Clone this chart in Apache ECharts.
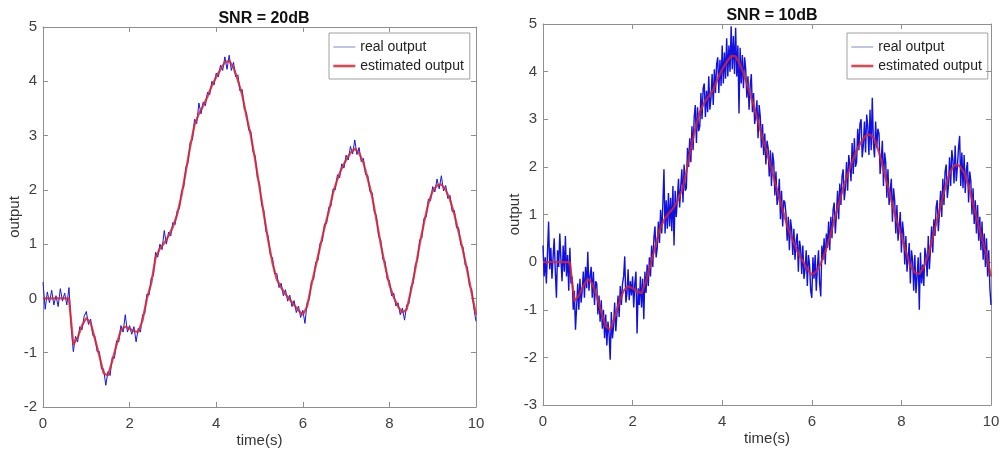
<!DOCTYPE html>
<html>
<head>
<meta charset="utf-8">
<script src="https://cdn.jsdelivr.net/npm/echarts@6/dist/echarts.min.js"></script>
<style>
html, body { margin: 0; padding: 0; background: #fff; }
#main { width: 1002px; height: 451px; }
</style>
</head>
<body>
<div id="main"></div>
<script>
// time steps of the sampled curves (s)
var stepEst = 0.1;
var stepReal20 = 0.05;
var stepReal10 = 0.025;

// SNR = 20dB, estimated output (every 0.1 s)
var est20 = [0,0,0,0,0,0,0,-0.85,-0.72,-0.5,
  -0.36,-0.45,-0.75,-1.05,-1.38,-1.42,-1.15,-0.85,-0.58,-0.52,
  -0.56,-0.6,-0.62,-0.4,0.0,0.28,0.75,0.92,1.02,1.15,
  1.32,1.55,1.9,2.35,2.8,3.2,3.4,3.55,3.72,3.92,
  4.08,4.22,4.35,4.38,4.25,4.02,3.75,3.35,3.0,2.55,
  2.05,1.55,1.07,0.65,0.35,0.2,0.08,-0.02,-0.12,-0.22,
  -0.3,-0.15,0.25,0.6,0.95,1.3,1.6,1.95,2.2,2.4,
  2.55,2.68,2.76,2.68,2.5,2.2,1.88,1.45,1.0,0.6,
  0.25,0.02,-0.15,-0.26,-0.2,0.15,0.55,1.0,1.4,1.75,
  1.98,2.08,2.1,2.0,1.82,1.55,1.22,0.88,0.5,0.1,-0.3];

// SNR = 20dB, real output (every 0.05 s)
var real20 = [0.3,-0.2,0.12,-0.08,0.15,-0.12,0.05,-0.15,0.18,-0.05,
  0.1,-0.12,0.2,-0.5,-0.98,-0.7,-0.8,-0.52,-0.58,-0.33,
  -0.24,-0.48,-0.38,-0.68,-0.7,-0.98,-0.98,-1.3,-1.3,-1.6,
  -1.35,-1.42,-1.08,-1.1,-0.78,-0.8,-0.5,-0.62,-0.3,-0.62,
  -0.5,-0.66,-0.52,-0.8,-0.55,-0.62,-0.3,-0.28,0.08,0.06,
  0.38,0.42,0.85,0.76,1.0,0.9,1.25,1.0,1.22,1.15,
  1.4,1.36,1.62,1.65,1.98,2.05,2.42,2.5,2.88,2.92,
  3.3,3.22,3.6,3.4,3.62,3.55,3.8,3.75,4.0,3.93,
  4.15,4.08,4.3,4.2,4.45,4.22,4.48,4.2,4.35,4.08,
  4.12,3.82,3.85,3.48,3.42,3.1,3.08,2.7,2.63,2.22,
  2.12,1.72,1.62,1.23,1.15,0.8,0.75,0.45,0.46,0.2,
  0.28,0.05,0.16,-0.05,0.06,-0.15,-0.04,-0.26,-0.14,-0.35,
  -0.22,-0.46,-0.08,-0.02,0.32,0.35,0.67,0.7,1.02,1.05,
  1.37,1.38,1.68,1.7,2.02,2.0,2.28,2.22,2.48,2.4,
  2.64,2.55,2.8,2.66,2.92,2.65,2.78,2.52,2.58,2.28,
  2.27,1.97,1.95,1.6,1.52,1.15,1.07,0.72,0.68,0.35,
  0.33,0.05,0.1,-0.14,-0.08,-0.3,-0.18,-0.4,-0.12,-0.1,
  0.22,0.28,0.63,0.7,1.08,1.12,1.48,1.5,1.83,1.8,
  2.06,1.96,2.2,2.02,2.26,1.98,2.08,1.84,1.9,1.6,
  1.62,1.3,1.3,0.98,0.95,0.62,0.58,0.22,0.18,-0.18,-0.42];

// SNR = 10dB, estimated output (every 0.1 s)
var est10 = [0,0,0,0,0,0,0,-0.82,-0.7,-0.5,
  -0.35,-0.45,-0.72,-1.05,-1.35,-1.42,-1.15,-0.85,-0.6,-0.5,
  -0.55,-0.62,-0.65,-0.4,-0.05,0.3,0.68,0.88,1.02,1.12,
  1.28,1.5,1.9,2.4,2.8,3.15,3.35,3.48,3.62,3.85,
  4.05,4.2,4.33,4.32,4.15,3.9,3.6,3.3,2.95,2.6,
  2.3,1.95,1.6,1.27,0.93,0.62,0.4,0.18,0.02,-0.14,
  -0.27,-0.2,-0.03,0.22,0.52,0.88,1.22,1.55,1.85,2.1,
  2.35,2.52,2.65,2.68,2.58,2.3,1.95,1.58,1.2,0.85,
  0.55,0.22,-0.08,-0.22,-0.25,-0.1,0.15,0.52,0.9,1.28,
  1.65,1.92,2.05,2.02,1.88,1.6,1.22,0.85,0.48,0.15,-0.3];

// SNR = 10dB, real output (every 0.025 s)
var real10 = [0.35,-0.3,0.1,-0.45, 0.2,0.85,-0.15,0.3, -0.35,0.1,0.5,-0.2, -0.75,0.25,-0.1,0.6,
  0.05,-0.4,0.35,-0.2, 0.55,-0.3,0.15,-0.6, 0.3,-0.45,-0.3,-1.0, -0.6,-1.42,-0.95,-0.45,
  -1.0,-0.35,-0.85,-0.6, -0.2,-0.75,-0.1,-0.55, 0.22,-0.6,-0.3,-0.1, -0.75,-0.2,-0.9,-0.4,
  -0.45,-1.1,-0.7,-1.25, -0.8,-1.4,-1.0,-1.6, -1.1,-1.75,-1.25,-1.5, -2.05,-1.05,-1.6,-1.35,
  -0.85,-1.45,-1.1,-0.7, -1.15,-0.5,-0.9,-0.45, -0.3,0.12,-0.85,-0.65, -0.15,-0.8,-0.4,-0.7,
  -0.3,-0.95,-0.45,-0.2, -1.5,-0.55,-0.9,-0.3, -0.95,-0.35,-1.2,-0.2, -0.65,-0.05,-0.5,0.1,
  -0.3,0.35,-0.1,0.5, 0.75,0.1,0.3,0.85, 0.4,1.1,0.6,1.2, 1.95,0.6,1.3,0.7,
  1.45,0.75,1.35,0.65, 1.6,0.35,1.5,0.95, 0.95,1.75,1.15,1.6, 1.95,1.25,2.05,1.5,
  1.55,2.4,2.0,2.6, 2.1,2.85,2.35,3.05, 3.3,2.5,3.25,2.75, 2.85,3.55,3.0,3.65,
  3.75,3.05,3.6,3.15, 3.9,3.2,3.45,3.95, 3.3,4.05,3.55,4.15, 4.3,3.55,4.25,3.7,
  4.55,3.75,4.4,3.85, 4.7,3.9,4.55,4.0, 4.95,4.05,4.75,3.95, 4.92,3.9,4.55,3.12,
  4.5,3.75,4.35,3.65, 4.3,4.05,3.45,3.9, 3.2,3.7,3.95,3.15, 3.55,2.9,3.1,3.4,
  2.6,3.3,3.05,2.4, 2.9,2.25,2.7,2.05, 2.55,2.4,1.8,2.35, 1.6,2.3,2.1,1.4,
  1.9,1.2,1.35,1.75, 0.9,1.5,0.75,1.3, 1.25,1.0,0.45,0.95, 0.25,0.9,0.7,0.15,
  0.7,0.05,0.45,0.6, -0.2,0.45,0.3,-0.25, 0.35,-0.35,-0.15,0.25, -0.5,0.15,-0.05,-0.6,
  -0.75,0.1,-0.35,0.15, -0.6,-0.1,0.25,-0.45, -0.72,0.35,0.05,0.5, -0.05,0.6,0.3,0.85,
  0.25,0.95,0.5,1.1, 1.25,0.6,1.0,1.5, 0.9,1.65,1.2,1.8, 1.95,1.3,1.55,2.1,
  1.5,2.25,2.05,1.7, 2.5,1.85,2.6,2.0, 2.1,2.8,2.35,2.9, 3.0,2.2,2.45,2.95,
  2.3,3.1,2.85,2.25, 3.2,2.35,3.45,2.5, 2.2,2.95,2.4,2.8, 2.7,1.85,2.15,2.55,
  1.6,2.3,2.1,1.35, 1.95,1.2,1.5,1.75, 0.85,1.55,1.3,0.6, 1.2,0.45,0.75,1.05,
  0.2,0.85,0.6,-0.05, 0.55,-0.2,0.1,0.4, -0.45,0.25,0.05,-0.6, 0.15,-0.65,-0.3,0.1,
  -1.0,0.2,-0.45,-0.05, -0.5,0.3,0.15,-0.3, 0.55,-0.15,0.3,0.75, 0.2,0.9,0.55,1.15,
  1.3,0.65,1.05,1.5, 0.95,1.75,1.2,1.9, 2.05,1.35,1.6,2.2, 1.6,2.35,2.15,1.65,
  2.45,1.7,2.0,2.4, 2.65,1.6,2.3,1.55, 2.25,1.45,1.95,2.1, 1.25,1.9,1.7,1.0,
  1.55,0.8,1.3,0.6, 1.2,0.45,0.95,0.25, 0.85,0.05,0.6,-0.1, 0.5,-0.3,0.25,-0.55, -0.9];

var titles = ['SNR = 20dB', 'SNR = 10dB'];
var names = ['real output', 'estimated output'];

function pairs(arr, step) {
  return arr.map(function (v, i) { return [+(i * step).toFixed(3), v]; });
}

var axisColor = '#8f8f8f';
var labelColor = '#404040';
var font = 'Liberation Sans, Arial, sans-serif';

function xAxes(gi) {
  return [
    { gridIndex: gi, type: 'value', min: 0, max: 10, interval: 2,
      name: 'time(s)', nameLocation: 'middle', nameGap: 26, nameMoveOverlap: false,
      nameTextStyle: { fontSize: 15, color: '#333', fontFamily: font },
      axisLine: { onZero: false, lineStyle: { color: axisColor } },
      axisTick: { inside: true, length: 5, lineStyle: { color: axisColor } },
      axisLabel: { fontSize: 15, color: labelColor, margin: 9, fontFamily: font },
      splitLine: { show: false } },
    { gridIndex: gi, type: 'value', position: 'top', min: 0, max: 10, interval: 2,
      axisLine: { onZero: false, lineStyle: { color: axisColor } },
      axisTick: { inside: true, length: 5, lineStyle: { color: axisColor } },
      axisLabel: { show: false }, splitLine: { show: false } }
  ];
}

function yAxes(gi, min) {
  return [
    { gridIndex: gi, type: 'value', min: min, max: 5, interval: 1,
      name: 'output', nameLocation: 'middle', nameGap: 21, nameMoveOverlap: false,
      nameTextStyle: { fontSize: 15, color: '#333', fontFamily: font },
      axisLine: { show: true, onZero: false, lineStyle: { color: axisColor } },
      axisTick: { show: true, inside: true, length: 5, lineStyle: { color: axisColor } },
      axisLabel: { fontSize: 15, color: labelColor, margin: 6, fontFamily: font },
      splitLine: { show: false } },
    { gridIndex: gi, type: 'value', position: 'right', min: min, max: 5, interval: 1,
      axisLine: { show: true, onZero: false, lineStyle: { color: axisColor } },
      axisTick: { show: true, inside: true, length: 5, lineStyle: { color: axisColor } },
      axisLabel: { show: false }, splitLine: { show: false } }
  ];
}

function legendAt(left, top) {
  return {
    left: left, top: top, orient: 'vertical',
    data: [
      { name: names[0], lineStyle: { width: 1, color: '#7f8cc8' } },
      { name: names[1], lineStyle: { width: 2.6, color: '#d62a32' } }
    ],
    itemWidth: 22, itemHeight: 14, itemGap: 5,
    padding: [7, 6, 6, 3], borderColor: '#a0a0a0', borderWidth: 1,
    itemStyle: { opacity: 0 },
    textStyle: { fontSize: 14, color: '#222', fontFamily: font },
    selectedMode: false
  };
}

var chart = echarts.init(document.getElementById('main'));
var option = {
  animation: false,
  backgroundColor: '#fff',
  title: [
    { text: titles[0], left: 259, top: 6, textAlign: 'center',
      textStyle: { fontSize: 16, fontWeight: 'bold', color: '#111', fontFamily: font } },
    { text: titles[1], left: 767, top: 3, textAlign: 'center',
      textStyle: { fontSize: 16, fontWeight: 'bold', color: '#111', fontFamily: font } }
  ],
  legend: [legendAt(329, 33), legendAt(847, 33)],
  grid: [
    { left: 43, top: 27, width: 433, height: 380, outerBoundsMode: 'none' },
    { left: 543, top: 24, width: 448, height: 381, outerBoundsMode: 'none' }
  ],
  xAxis: xAxes(0).concat(xAxes(1)),
  yAxis: yAxes(0, -2).concat(yAxes(1, -3)),
  series: [
    { name: names[0], type: 'line', xAxisIndex: 0, yAxisIndex: 0, symbol: 'none',
      data: pairs(real20, stepReal20), color: '#1414e8',
      lineStyle: { width: 1, color: '#1414e8' } },
    { name: names[1], type: 'line', xAxisIndex: 0, yAxisIndex: 0, symbol: 'none',
      data: pairs(est20, stepEst), color: '#d8262e',
      lineStyle: { width: 2.2, color: '#d8262e', opacity: 0.85 } },
    { name: names[0], type: 'line', xAxisIndex: 2, yAxisIndex: 2, symbol: 'none',
      data: pairs(real10, stepReal10), color: '#1010e0',
      lineStyle: { width: 1.4, color: '#1010e0' } },
    { name: names[1], type: 'line', xAxisIndex: 2, yAxisIndex: 2, symbol: 'none',
      data: pairs(est10, stepEst), color: '#d8262e',
      lineStyle: { width: 2.2, color: '#d8262e', opacity: 0.85 } }
  ]
};
chart.setOption(option);
</script>
</body>
</html>
